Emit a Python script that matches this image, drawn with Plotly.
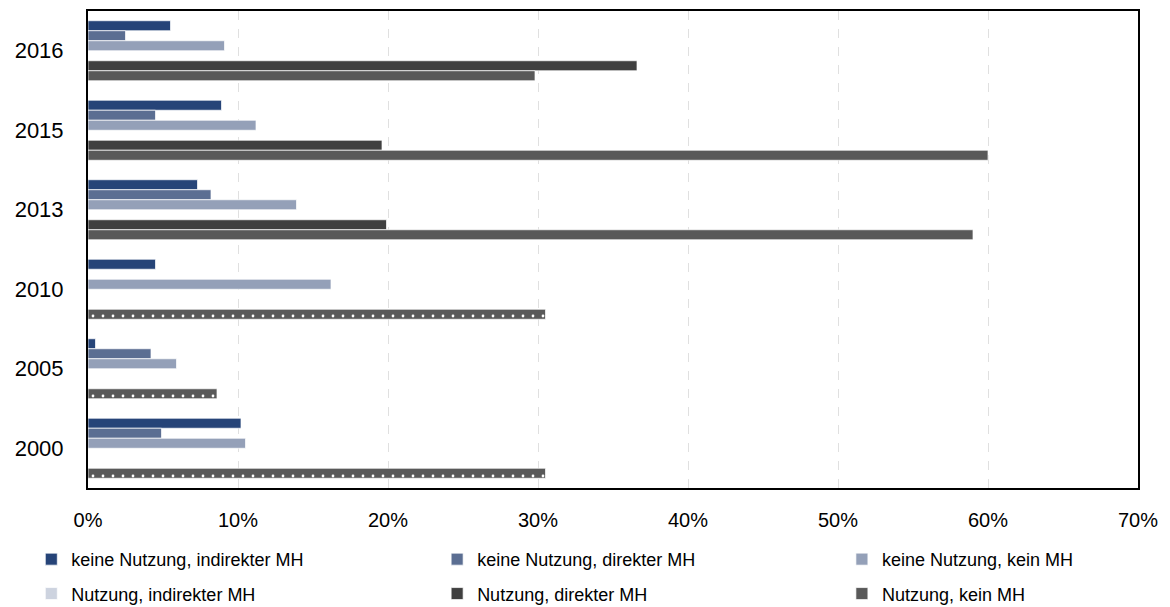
import plotly.graph_objects as go

# Jahre von oben nach unten (y-Achse wird umgedreht)
years = ["2016", "2015", "2013", "2010", "2005", "2000"]

names = [
    "keine Nutzung, indirekter MH",
    "keine Nutzung, direkter MH",
    "keine Nutzung, kein MH",
    "Nutzung, indirekter MH",
    "Nutzung, direkter MH",
    "Nutzung, kein MH",
]

# Werte in Prozent
keine_indirekt = [5.5, 8.9, 7.3, 4.5, 0.5, 10.2]
keine_direkt = [2.5, 4.5, 8.2, None, 4.2, 4.9]
keine_kein = [9.1, 11.2, 13.9, 16.2, 5.9, 10.5]
nutzung_indirekt = [None, None, None, None, None, None]
nutzung_direkt = [36.6, 19.6, 19.9, None, None, None]
nutzung_kein = [29.8, 60.0, 59.0, 30.5, 8.6, 30.5]

# Jahre, in denen "Nutzung, kein MH" gepunktet dargestellt ist
dotted_years = ["2010", "2005", "2000"]

colors = ["#264478", "#5b6e92", "#94a0b8", "#cdd3df", "#404040", "#595959"]
legends = ["legend", "legend2", "legend3", "legend", "legend2", "legend3"]
values = [keine_indirekt, keine_direkt, keine_kein,
          nutzung_indirekt, nutzung_direkt, nutzung_kein]

fig = go.Figure()

for i in range(6):
    marker = dict(color=colors[i], line=dict(color="rgba(255,255,255,0.7)", width=1))
    if i == 5:
        marker["pattern"] = dict(
            shape=["." if y in dotted_years else "" for y in years],
            fgcolor="white",
            bgcolor=colors[i],
            size=10,
            solidity=0.06,
            fillmode="replace",
        )
    fig.add_trace(go.Bar(
        y=years, x=values[i], name=names[i], orientation="h",
        marker=marker, legend=legends[i], legendgroup=names[i],
        hoverinfo="x+y+name",
    ))

font = "Liberation Sans, Arial, sans-serif"

fig.update_layout(
    width=1170, height=607,
    margin=dict(l=80, r=40, t=3, b=127, autoexpand=False),
    paper_bgcolor="white", plot_bgcolor="white",
    barmode="group", bargap=0.245, bargroupgap=0,
    font=dict(family=font, size=20, color="black"),
)

legend_style = dict(
    orientation="v", yanchor="top", y=-0.111, xanchor="left",
    font=dict(family=font, size=18, color="black"),
    bgcolor="rgba(0,0,0,0)", tracegroupgap=8, itemwidth=30,
)
fig.update_layout(
    legend=dict(legend_style, x=-0.054),
    legend2=dict(legend_style, x=0.3325),
    legend3=dict(legend_style, x=0.718),
)

fig.update_xaxes(
    range=[0, 70], dtick=10, ticksuffix="%",
    showgrid=True, gridcolor="#e0e0e0", griddash="dash", gridwidth=1,
    showline=True, linecolor="black", linewidth=2, mirror=True,
    ticks="", ticklabelstandoff=13, zeroline=False,
    tickfont=dict(size=20),
)
fig.update_yaxes(
    type="category", autorange="reversed",
    showline=True, linecolor="black", linewidth=2, mirror=True,
    showgrid=False, ticks="", ticklabelstandoff=18,
    tickfont=dict(size=22),
)

fig.write_html("out.html")
